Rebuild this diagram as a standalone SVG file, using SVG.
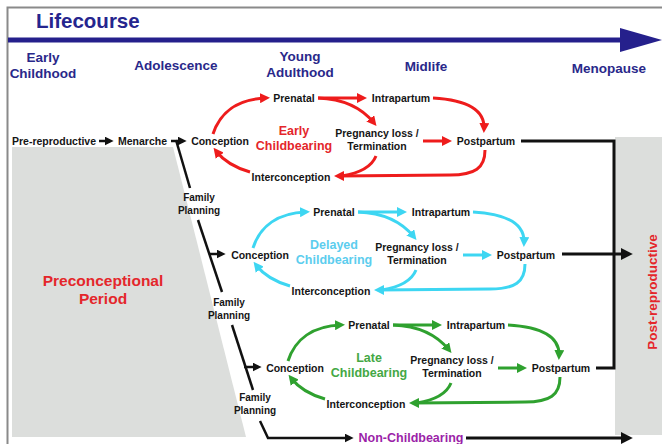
<svg xmlns="http://www.w3.org/2000/svg" width="662" height="444" viewBox="0 0 662 444">
<style>
text{font-family:"Liberation Sans",Arial,sans-serif;font-weight:bold}
.n{font-size:10.5px;fill:#151515;text-anchor:middle}
.fp{font-size:10px;fill:#151515;text-anchor:middle}
.st{font-size:13.5px;fill:#29288a;text-anchor:middle}
.cl{font-size:12.5px;text-anchor:middle}
.r{fill:none;stroke:#ee1c1c;stroke-width:3}
.c{fill:none;stroke:#3dd6f2;stroke-width:3}
.g{fill:none;stroke:#2fa12f;stroke-width:3}
.k{fill:none;stroke:#111;stroke-width:2.5}
.kk{fill:none;stroke:#111;stroke-width:3}
</style>
<defs>
<marker id="mr" viewBox="0 0 10 10" refX="6" refY="5" markerWidth="10" markerHeight="10" markerUnits="userSpaceOnUse" orient="auto"><path d="M0,0 L10,5 L0,10 z" fill="#ee1c1c"/></marker>
<marker id="mc" viewBox="0 0 10 10" refX="6" refY="5" markerWidth="10" markerHeight="10" markerUnits="userSpaceOnUse" orient="auto"><path d="M0,0 L10,5 L0,10 z" fill="#3dd6f2"/></marker>
<marker id="mg" viewBox="0 0 10 10" refX="6" refY="5" markerWidth="10" markerHeight="10" markerUnits="userSpaceOnUse" orient="auto"><path d="M0,0 L10,5 L0,10 z" fill="#2fa12f"/></marker>
<marker id="mk" viewBox="0 0 10 10" refX="6" refY="5" markerWidth="9" markerHeight="9" markerUnits="userSpaceOnUse" orient="auto"><path d="M0,0 L10,5 L0,10 z" fill="#111"/></marker>
<marker id="mK" viewBox="0 0 10 10" refX="6" refY="5" markerWidth="12" markerHeight="12" markerUnits="userSpaceOnUse" orient="auto"><path d="M0,0 L10,5 L0,10 z" fill="#111"/></marker>
</defs>
<rect x="0" y="0" width="662" height="444" fill="#fff"/>
<!-- background regions -->
<polygon points="12,147 173,147 246,437 12,437" fill="#dcdedc"/>
<rect x="615" y="137" width="47" height="298" fill="#dcdedc"/>
<!-- frame -->
<path d="M7.5,444 L7.5,7.5 L662,7.5" fill="none" stroke="#8a8a8a" stroke-width="2"/>
<!-- lifecourse axis -->
<g id="lifecourse">
<text x="36" y="28" style="font-size:20.5px;fill:#25258e">Lifecourse</text>
<line x1="8" y1="40" x2="624" y2="40" stroke="#25208c" stroke-width="5"/>
<polygon points="620,28 662,40 620,52" fill="#25208c"/>
</g>
<g id="stage-early-childhood"><text class="st" x="43" y="62">Early</text><text class="st" x="43" y="78">Childhood</text></g>
<g id="stage-adolescence"><text class="st" x="176" y="70">Adolescence</text></g>
<g id="stage-young-adulthood"><text class="st" x="300" y="61">Young</text><text class="st" x="300" y="77">Adulthood</text></g>
<g id="stage-midlife"><text class="st" x="426" y="71">Midlife</text></g>
<g id="stage-menopause"><text class="st" x="609" y="73">Menopause</text></g>
<g id="preconceptional"><text class="cl" style="font-size:15.5px;fill:#e4262b" x="103" y="285.5">Preconceptional</text><text class="cl" style="font-size:15.5px;fill:#e4262b" x="103" y="303.5">Period</text></g>
<g id="post-reproductive"><text class="cl" style="font-size:13.5px;fill:#e4262b" transform="translate(657,292) rotate(-90)">Post-reproductive</text></g>
<g id="pre-reproductive"><text style="font-size:10.5px;fill:#151515" x="12" y="144.5">Pre-reproductive</text></g>
<g id="menarche"><text style="font-size:10.5px;fill:#151515" x="118" y="144.5">Menarche</text></g>
<g id="family-planning-1"><text class="fp" x="199" y="201">Family</text><text class="fp" x="199" y="214">Planning</text></g>
<g id="family-planning-2"><text class="fp" x="229" y="306">Family</text><text class="fp" x="229" y="319">Planning</text></g>
<g id="family-planning-3"><text class="fp" x="255" y="401">Family</text><text class="fp" x="255" y="414">Planning</text></g>
<g id="non-childbearing"><text class="cl" style="fill:#9b1fa8" x="411" y="442">Non-Childbearing</text></g>

<!-- early childbearing nodes -->
<g id="early-label"><text class="cl" style="fill:#e4262b" x="294" y="134.5">Early</text><text class="cl" style="fill:#e4262b" x="294" y="150">Childbearing</text></g>
<g id="early-conception"><text class="n" x="220" y="145">Conception</text></g>
<g id="early-prenatal"><text class="n" x="294" y="102">Prenatal</text></g>
<g id="early-intrapartum"><text class="n" x="401" y="102">Intrapartum</text></g>
<g id="early-loss"><text class="n" x="377" y="137">Pregnancy loss /</text><text class="n" x="377" y="150">Termination</text></g>
<g id="early-postpartum"><text class="n" x="486" y="145">Postpartum</text></g>
<g id="early-interconception"><text class="n" x="291" y="181">Interconception</text></g>

<!-- delayed childbearing nodes -->
<g id="delayed-label"><text class="cl" style="fill:#5ccdee" x="334" y="248.5">Delayed</text><text class="cl" style="fill:#5ccdee" x="334" y="264">Childbearing</text></g>
<g id="delayed-conception"><text class="n" x="260" y="259">Conception</text></g>
<g id="delayed-prenatal"><text class="n" x="334" y="216">Prenatal</text></g>
<g id="delayed-intrapartum"><text class="n" x="441" y="216">Intrapartum</text></g>
<g id="delayed-loss"><text class="n" x="417" y="251">Pregnancy loss /</text><text class="n" x="417" y="264">Termination</text></g>
<g id="delayed-postpartum"><text class="n" x="526" y="259">Postpartum</text></g>
<g id="delayed-interconception"><text class="n" x="331" y="295">Interconception</text></g>

<!-- late childbearing nodes -->
<g id="late-label"><text class="cl" style="fill:#44a844" x="369" y="361.5">Late</text><text class="cl" style="fill:#44a844" x="369" y="377">Childbearing</text></g>
<g id="late-conception"><text class="n" x="295" y="372">Conception</text></g>
<g id="late-prenatal"><text class="n" x="369" y="329">Prenatal</text></g>
<g id="late-intrapartum"><text class="n" x="476" y="329">Intrapartum</text></g>
<g id="late-loss"><text class="n" x="452" y="364">Pregnancy loss /</text><text class="n" x="452" y="377">Termination</text></g>
<g id="late-postpartum"><text class="n" x="561" y="372">Postpartum</text></g>
<g id="late-interconception"><text class="n" x="366" y="408">Interconception</text></g>

<g id="connectors">
<!-- black -->
<path class="k" d="M99,141 L110,141" marker-end="url(#mk)"/>
<path class="k" d="M171,141 L183,141" marker-end="url(#mk)"/>
<path class="k" d="M190,188 L176,140"/>
<path class="k" d="M198,220 L222,292"/>
<path class="k" d="M209,254 L222,254" marker-end="url(#mk)"/>
<path class="k" d="M232,325 L253,390"/>
<path class="k" d="M244,367 L258,367" marker-end="url(#mk)"/>
<path class="k" d="M260,421 L268,438 L350,438" marker-end="url(#mk)"/>
<path class="kk" d="M466,438 L628,438" marker-end="url(#mK)"/>
<path class="kk" d="M521,141 L614,141 L614,368 L596,368"/>
<path class="kk" d="M562,254 L628,254" marker-end="url(#mK)"/>
<!-- early (red) -->
<g>
<path class="r" d="M213,134 C220,112 238,99 266,98" marker-end="url(#mr)"/>
<path class="r" d="M318,98 L363,98" marker-end="url(#mr)"/>
<path class="r" d="M318,98 C345,99 362,108 374,123" marker-end="url(#mr)"/>
<path class="r" d="M433,98 C468,100 485,110 484,129" marker-end="url(#mr)"/>
<path class="r" d="M423,141 L448,141" marker-end="url(#mr)"/>
<path class="r" d="M485,150 C485,168 475,175 450,175 L338,176" marker-end="url(#mr)"/>
<path class="r" d="M376,156 C372,166 360,173 342,176"/>
<path class="r" d="M250,172 C236,168 223,160 216,151" marker-end="url(#mr)"/>
</g>
<!-- delayed (cyan) -->
<g transform="translate(40,114)">
<path class="c" d="M213,134 C220,112 238,99 266,98" marker-end="url(#mc)"/>
<path class="c" d="M318,98 L363,98" marker-end="url(#mc)"/>
<path class="c" d="M318,98 C345,99 362,108 374,123" marker-end="url(#mc)"/>
<path class="c" d="M433,98 C468,100 485,110 484,129" marker-end="url(#mc)"/>
<path class="c" d="M423,141 L448,141" marker-end="url(#mc)"/>
<path class="c" d="M485,150 C485,168 475,175 450,175 L338,176" marker-end="url(#mc)"/>
<path class="c" d="M376,156 C372,166 360,173 342,176"/>
<path class="c" d="M250,172 C236,168 223,160 216,151" marker-end="url(#mc)"/>
</g>
<!-- late (green) -->
<g transform="translate(75,227)">
<path class="g" d="M213,134 C220,112 238,99 266,98" marker-end="url(#mg)"/>
<path class="g" d="M318,98 L363,98" marker-end="url(#mg)"/>
<path class="g" d="M318,98 C345,99 362,108 374,123" marker-end="url(#mg)"/>
<path class="g" d="M433,98 C468,100 485,110 484,129" marker-end="url(#mg)"/>
<path class="g" d="M423,141 L448,141" marker-end="url(#mg)"/>
<path class="g" d="M485,150 C485,168 475,175 450,175 L338,176" marker-end="url(#mg)"/>
<path class="g" d="M376,156 C372,166 360,173 342,176"/>
<path class="g" d="M250,172 C236,168 223,160 216,151" marker-end="url(#mg)"/>
</g>
</g>
</svg>
